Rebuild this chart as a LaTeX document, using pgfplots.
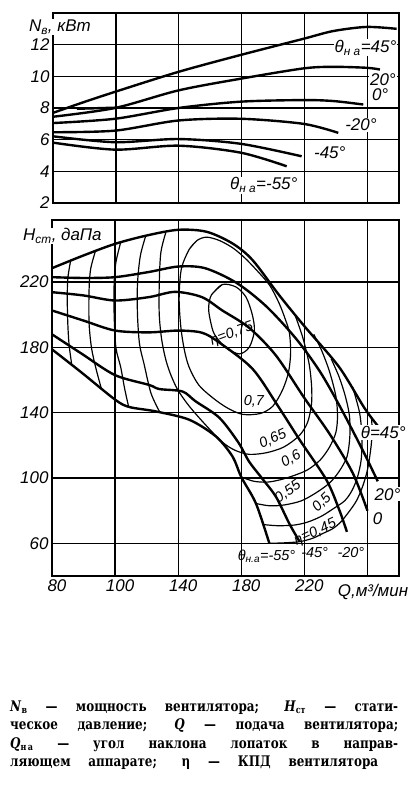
\documentclass[border=0pt]{standalone}
\usepackage{graphicx}
\usepackage{fontspec}
\setmainfont{Liberation Sans}
\newfontfamily\capfont{DejaVu Serif}
\usepackage{pgfplots}
\pgfplotsset{compat=1.18}
\pgfplotsset{
  base/.style={
    scale only axis, clip=false,
    axis line style={line width=1.5pt},
    grid=major, major grid style={line width=1.2pt, black},
    major tick length=0pt,
    ticklabel style={font=\fontsize{17}{17}\selectfont\itshape},
    /pgf/number format/assume math mode=true,
    xmin=60, xmax=280,
  },
  thick curve/.style={black, line width=2.4pt, smooth, no markers},
  thin curve/.style={black, line width=1.2pt, smooth, no markers},
}
\tikzset{lab/.style={font=\fontsize{17}{17}\selectfont\itshape, inner sep=1pt},
  slab/.style={font=\fontsize{14.5}{14.5}\selectfont\itshape, inner sep=0pt}}
\newcommand\capline[2]{\scalebox{1}[1.22]{\makebox[#1][s]{#2}}}
\begin{document}
\begin{tikzpicture}
\path[use as bounding box] (0bp,0bp) rectangle (420bp,-798bp);

% ---------------- top: power ----------------
\begin{axis}[base, at={(53bp,-13bp)}, anchor=north west,
  width=346bp, height=190bp,
  ymin=2, ymax=14, ytick={2,4,6,8,10,12},
  xtick={100,140,180,220,260}, xticklabels={{},{},{},{},{}}]
\addplot[thick curve] coordinates {(60.2,7.7) (77.2,8.29) (99.4,9.02) (139.7,10.28) (179.3,11.35) (219.2,12.37) (238.2,12.86) (259.4,13.12) (278.5,13.0)};
\addplot[thick curve] coordinates {(60.2,7.45) (99.4,8.0) (139.7,9.11) (179.3,9.85) (219.2,10.5) (238.2,10.6) (259.4,10.54) (267.9,10.43)};
\addplot[thick curve] coordinates {(75.1,7.95) (99.4,8.02)};
\addplot[thick curve] coordinates {(60.2,7.05) (99.4,7.32) (139.7,8.0) (179.3,8.4) (219.2,8.5) (238.2,8.44) (257.3,8.22)};
\addplot[thick curve] coordinates {(60.2,6.47) (99.4,6.57) (139.7,7.21) (179.3,7.32) (219.2,7.0) (241.4,6.43)};
\addplot[thick curve] coordinates {(60.2,6.21) (99.4,5.84) (139.7,6.04) (179.3,5.74) (218.1,4.95)};
\addplot[thick curve] coordinates {(60.2,5.81) (99.4,5.37) (139.7,5.62) (179.3,5.18) (208.6,4.32)};
\node[lab, fill=white] at (axis cs:258.7,11.8) {θ\textsubscript{н а}=45°};
\node[lab, fill=white] at (axis cs:269.8,9.77) {20°};
\node[lab, fill=white] at (axis cs:268,8.82) {0°};
\node[lab, fill=white] at (axis cs:255.8,6.93) {-20°};
\node[lab, fill=white] at (axis cs:236,5.2) {-45°};
\node[lab, fill=white] at (axis cs:194,3.13) {θ\textsubscript{н а}=-55°};
\node[lab, fill=white, anchor=west] at (axis cs:44,13.1) {N\textsubscript{в}, кВт};
\end{axis}

% ---------------- bottom: pressure ----------------
\begin{axis}[base, at={(52bp,-220bp)}, anchor=north west,
  width=347bp, height=356bp,
  ymin=40, ymax=258, ytick={60,100,140,180,220},
  xtick={60,100,140,180,220,260}, xticklabels={80,100,140,180,220,{}},
  xticklabel style={xshift=5bp}]
% H-Q curves
\addplot[thick curve] coordinates {(60,228.5) (80,236.3) (100,243.4) (120,248.5) (140,252) (158,250.8) (174.5,243.6) (187.2,233.4) (204,212) (220,193) (242,168) (258,143) (266.5,132)};
\addplot[thick curve] coordinates {(60,223) (80,222.5) (100,223) (121.6,226.2) (140,229.5) (157,228.5) (177,219.5) (196,205) (215,185) (230,165) (243,143) (257,117) (266.5,98)};
\addplot[thick curve] coordinates {(60,213.8) (80,211.8) (100,208.7) (121.6,210.8) (138,214) (155,210.8) (168,202.6) (185,192) (202,175) (220,149) (236,127) (250.7,103) (260,80)};
\addplot[thick curve] coordinates {(60,202.6) (80,196.4) (100,190.3) (121.6,189.2) (140,190.3) (155,189) (166,183) (187,167) (203,144.5) (217,123.4) (234,98.8) (242.2,80.3) (247,67)};
\addplot[thick curve] coordinates {(60,188) (79,176) (100,163) (121.6,157) (128,154.5) (142.7,153) (151,147) (166,137) (178,122) (185,110) (193,100) (202,88.5) (210.5,72) (217,61)};
\addplot[thick curve] coordinates {(60,178.8) (79,164.4) (100,148) (109,143.5) (125.8,140.8) (147,135.7) (164,125.4) (174.5,113.1) (180,100.6) (189.3,84.4) (197.8,60)};
% efficiency contours
\addplot[thin curve] coordinates {(168,218.5) (161,212) (159.3,204) (160.5,196) (163,188) (170,180) (178.7,176) (185,180) (188.3,190) (187,200) (183,210.8) (176.6,217) (168,218.5) (161,212)};
\addplot[thin curve] coordinates {(152,245.5) (147,240) (142,228) (140.6,210) (141.7,192.3) (144,178) (147,167.7) (153,157) (161.8,149.2) (171,143) (180.8,139) (192,139.5) (200,144) (206.2,154) (210,165) (211.3,177) (210.5,189) (208,197) (204,207) (198,218) (190,227) (182,235) (174.5,241) (166,245.5) (158,247.5) (152,245.5) (147,240)};
% 0.65
\addplot[thin curve] coordinates {(132.2,250.5) (129,238) (128,219) (128,200) (129.5,185) (132,173) (135,164) (139.6,154.2) (147,144) (157.6,132.3) (168,122) (176,117) (185,114.5) (196,115.5) (207,119) (216.8,126) (222,134) (224.5,145) (224.6,156) (223,170) (219,186) (214,200)};
% 0.6
\addplot[thin curve] coordinates {(119.5,248.5) (116,236) (114.2,219) (114.2,200) (115.5,182) (118.4,169.7) (122.7,152.1) (128,141)};
\addplot[thin curve] coordinates {(180,100.6) (188,98) (196.6,97.5) (205,99) (213.6,101.6) (222,105) (230,111) (236,119) (240,128) (241,138) (240,150) (236,165) (231,178) (226,188)};
% 0.55
\addplot[thin curve] coordinates {(103.6,244.5) (100.5,232) (99.4,219) (99.4,200) (100.5,180) (103.6,167.7) (106,155) (108.5,144)};
\addplot[thin curve] coordinates {(189.3,84.4) (198,83) (207.2,83.5) (218,86) (227.5,91) (236,97) (242,104) (247,113) (248.8,125) (248.6,138) (246,150) (242,162) (237,173)};
% 0.5
\addplot[thin curve] coordinates {(87.7,239.5) (84.5,228) (83.5,215) (83.5,195) (85,180) (87.7,167.7) (91.5,154)};
\addplot[thin curve] coordinates {(194,71.5) (203,70.8) (213.6,71.2) (222,73) (230.6,76.5) (238,81) (245.5,86) (250,92) (253.5,100) (256,111) (256.5,125) (255,140) (250.5,156)};
% 0.45
\addplot[thin curve] coordinates {(71.9,233.5) (70,222) (69.7,208.7) (70,195) (70.8,182) (72.5,169.5)};
\addplot[thin curve] coordinates {(197.8,60) (207,60.3) (216.8,61) (225,63) (231.6,66) (238,69) (243,73) (248,79) (253,86) (257,95) (260,105) (262,117) (263,128) (262.5,137.5)};
% labels
\node[slab, rotate=20] at (axis cs:174,188) {η=0,75};
\node[slab] at (axis cs:188,147) {0,7};
\node[slab, rotate=25] at (axis cs:200,124) {0,65};
\node[slab, rotate=30] at (axis cs:211.5,111.5) {0,6};
\node[slab, rotate=35] at (axis cs:209.5,91.5) {0,55};
\node[slab, rotate=45] at (axis cs:231,85) {0,5};
\node[slab, rotate=25] at (axis cs:227,66.5) {η=0,45};
\node[lab, fill=white] at (axis cs:270,128) {θ=45°};
\node[lab, fill=white] at (axis cs:272.7,90) {20°};
\node[lab, fill=white] at (axis cs:266.5,75.4) {0};
\node[slab] at (axis cs:196,52) {θ\textsubscript{н.а}=-55°};
\node[slab] at (axis cs:226.5,54.5) {-45°};
\node[slab] at (axis cs:249.5,54.5) {-20°};
\node[lab, fill=white, anchor=west] at (axis cs:41,248.2) {H\textsubscript{ст}, даПа};
\node[lab, anchor=west] at (axis cs:240.5,30.2) {Q,м³/мин};
\end{axis}

% ---------------- caption ----------------
\begin{scope}[every node/.style={anchor=base west, inner sep=0pt, font=\capfont\bfseries\fontsize{12}{12}\selectfont}]
\node at (10bp,-711bp) {\capline{388bp}{\textit{N}\textsubscript{в} — мощность вентилятора; \textit{H}\textsubscript{ст} — стати-}};
\node at (10bp,-729.5bp) {\capline{388bp}{ческое давление; \textit{Q} — подача вентилятора;}};
\node at (10bp,-748bp) {\capline{388bp}{\textit{Q}\textsubscript{н\,а} — угол наклона лопаток в направ-}};
\node at (10bp,-766.5bp) {\capline{368bp}{ляющем аппарате; η — КПД вентилятора}};
\end{scope}
\end{tikzpicture}
\end{document}
